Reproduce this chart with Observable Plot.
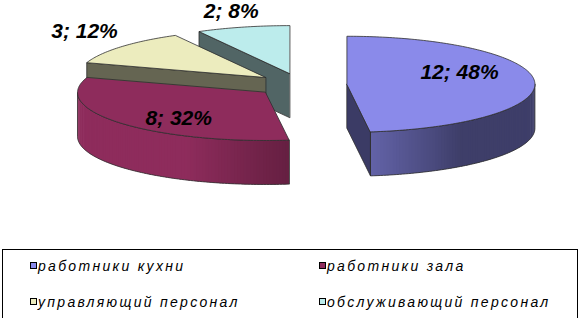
<!DOCTYPE html>
<html>
<head>
<meta charset="utf-8">
<script src="https://cdn.jsdelivr.net/npm/d3@7"></script>
<script src="https://cdn.jsdelivr.net/npm/@observablehq/plot@0.6"></script>
<style>
  html, body { margin: 0; padding: 0; background: #fff; }
  #wrap { position: relative; width: 583px; height: 318px; overflow: hidden; font-family: "Liberation Sans", Arial, sans-serif; }
  #chart { position: absolute; left: 0; top: 0; }
  #legendBox { position: absolute; left: 2px; top: 249px; width: 576px; height: 90px; border: 1px solid #000; box-sizing: border-box; }
  .sw { position: absolute; width: 7px; height: 7px; border: 1px solid #000; box-sizing: border-box; }
  .lt { position: absolute; font-style: italic; font-size: 14px; line-height: normal; letter-spacing: 2.3px; color: #000; white-space: nowrap; }
</style>
</head>
<body>
<div id="wrap">
  <div id="chart"></div>
  <div id="legendBox"></div>
</div>
<script>
// ---- data ----
const categories = ["работники кухни", "работники зала", "управляющий персонал", "обслуживающий персонал"];
const values = [12, 8, 3, 2];
const sliceColors = ["#8a8aea", "#8e2c5c", "#ececbe", "#bcecec"];

// ---- layout ----
const W = 583, H = 249;
const P = {x: 300.5, y: 84.5};
const RX = 188, RY = 48, DEPTH = 44, EXPLODE = 46;
const K = RY / RX;
const LABEL_K = 0.31;
const labelNudge = [-10, 3, 0, 8];
const EDGE = "#2e2e2e";
const deg = Math.PI / 180;

const total = d3.sum(values);
function shade(c, f) { const r = d3.rgb(c); return d3.rgb(r.r * f, r.g * f, r.b * f).formatHex(); }
function sideLight(a) { const t = Math.max(0, Math.min(1, (a / deg - 143) / 62)); return 0.45 + 0.55 * t; }

const arcs = d3.pie().sort(null).value(d => d)(values);
const slices = arcs.map((a, i) => {
  const m = (a.startAngle + a.endAngle) / 2;
  return {i, a0: a.startAngle, a1: a.endAngle, m,
    cx: P.x + EXPLODE * Math.sin(m), cy: P.y - EXPLODE * K * Math.cos(m)};
});
const order = slices.slice().sort((a, b) => a.cy - b.cy);

const pt = (s, a, dz = 0) => ({x: s.cx + RX * Math.sin(a), y: s.cy - RY * Math.cos(a) + dz});
function arcPts(s, a, b, dz) {
  const n = Math.max(2, Math.ceil(Math.abs(b - a) / deg));
  return d3.range(n + 1).map(j => pt(s, a + (b - a) * j / n, dz));
}

const marks = [];
for (const s of order) {
  const base = sliceColors[s.i];
  const faces = [], strips = [];
  let id = 0;
  const addPoly = (arr, pts, fill, stroke) => {
    const key = s.i + "-" + (id++);
    for (const p of pts) arr.push({id: key, x: p.x, y: p.y, fill, stroke});
  };
  const C = {x: s.cx, y: s.cy}, Cb = {x: s.cx, y: s.cy + DEPTH};
  const cutFill = shade(base, 0.43);
  if (Math.sin(s.a0) < -1e-6) addPoly(faces, [C, pt(s, s.a0), pt(s, s.a0, DEPTH), Cb], cutFill, EDGE);
  if (Math.sin(s.a1) > 1e-6) addPoly(faces, [C, pt(s, s.a1), pt(s, s.a1, DEPTH), Cb], cutFill, EDGE);
  const lo = Math.max(s.a0, Math.PI / 2), hi = Math.min(s.a1, 3 * Math.PI / 2);
  if (hi > lo) {
    const n = Math.ceil((hi - lo) / deg);
    const step = (hi - lo) / n;
    for (let j = 0; j < n; j++) {
      const a = lo + step * j, b = Math.min(hi, a + step * 1.8);
      const f = shade(base, sideLight(a + step / 2));
      addPoly(strips, [pt(s, a), ...arcPts(s, a, b, 0).slice(1), ...arcPts(s, b, a, DEPTH)], f, "none");
    }
    addPoly(faces, [...arcPts(s, lo, hi, 0), ...arcPts(s, hi, lo, DEPTH)], "none", EDGE);
  }
  addPoly(faces, [C, ...arcPts(s, s.a0, s.a1, 0)], base, EDGE);
  marks.push(
    Plot.line(strips, {x: "x", y: "y", z: "id", fill: "fill", stroke: "stroke", strokeWidth: 0, curve: "linear-closed"}),
    Plot.line(faces, {x: "x", y: "y", z: "id", fill: "fill", stroke: "stroke", strokeWidth: 0.8, curve: "linear-closed"})
  );
}

const labels = slices.map(s => {
  const pct = Math.round(values[s.i] / total * 100);
  const r = pct >= 20 ? 0.6 : 1.25;
  return {
    x: s.cx + r * RX * Math.sin(s.m),
    y: s.cy - r * RX * LABEL_K * Math.cos(s.m) + labelNudge[s.i],
    text: values[s.i] + "; " + pct + "%"
  };
});
marks.push(Plot.text(labels, {x: "x", y: "y", text: "text", fontSize: 21, fontWeight: "bold", fontStyle: "italic",
  fontFamily: "Liberation Sans, Arial, sans-serif", fill: "#000", textAnchor: "middle"}));

const chart = Plot.plot({
  width: W, height: H, margin: 0,
  x: {domain: [0, W], range: [0, W], axis: null},
  y: {domain: [0, H], range: [0, H], axis: null},
  color: {type: "identity"},
  style: {background: "white", overflow: "visible"},
  marks
});
document.getElementById("chart").appendChild(chart);

// ---- legend ----
const wrap = document.getElementById("wrap");
const colX = [30, 319], rowY = [262, 298];
categories.forEach((c, i) => {
  const x = colX[i % 2], y = rowY[Math.floor(i / 2)];
  const sw = document.createElement("div");
  sw.className = "sw";
  sw.style.left = x + "px"; sw.style.top = y + "px"; sw.style.background = sliceColors[i];
  wrap.appendChild(sw);
  const t = document.createElement("div");
  t.className = "lt";
  t.style.left = (x + 8) + "px"; t.style.top = (y - 4) + "px";
  t.textContent = c;
  wrap.appendChild(t);
});
</script>
</body>
</html>
